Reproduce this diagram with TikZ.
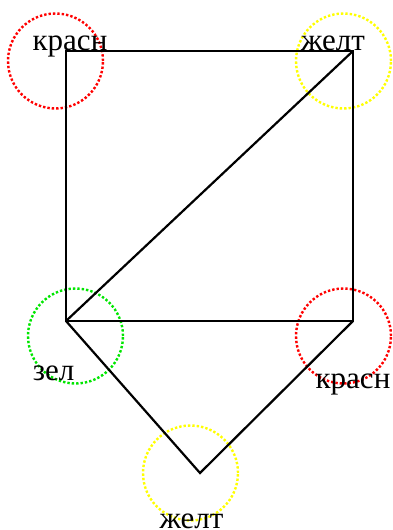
\documentclass[tikz,border=0pt]{standalone}
\usepackage{fontspec}
\setmainfont{Liberation Serif}
\usetikzlibrary{positioning}
\definecolor{krasn}{RGB}{255,0,0}
\definecolor{zhelt}{RGB}{255,255,0}
\definecolor{zel}{RGB}{0,230,0}

\begin{document}
\begin{tikzpicture}[x=1pt, y=-1pt,
  edge/.style={line width=2.2pt},
  ring/.style={draw, circle, dotted, line width=2.4pt,
    minimum size=95pt, inner sep=0pt},
  lbl/.style={anchor=base, inner sep=0pt, font=\fontsize{31}{31}\selectfont}]
\useasboundingbox (0,0) rectangle (392,530);
% vertices
\coordinate (a) at (66,51);
\coordinate (b) at (353,51);
\coordinate (c) at (66,321);
\coordinate (d) at (353,321);
\coordinate (e) at (200,473);
% colour rings
\node[ring, krasn] (ra) at (55.5,61) {};
\node[ring, zhelt] (rb) at (343.5,61) {};
\node[ring, zel] (rc) at (75.5,336) {};
\node[ring, krasn] (rd) at (343.5,336) {};
\node[ring, zhelt] (re) at (190.5,473) {};
% edges
\draw[edge] (a) -- (b) -- (d) -- (c) -- cycle;
\draw[edge] (c) -- (b);
\draw[edge] (c) -- (e) -- (d);
% names
\node[lbl] (ta) at (70,50) {красн};
\node[lbl] (tb) at (333,50) {желт};
\node[lbl] (tc) at (53.5,380) {зел};
\node[lbl] (td) at (353,388) {красн};
\node[lbl] (te) at (191.5,528) {желт};
\end{tikzpicture}
\end{document}
